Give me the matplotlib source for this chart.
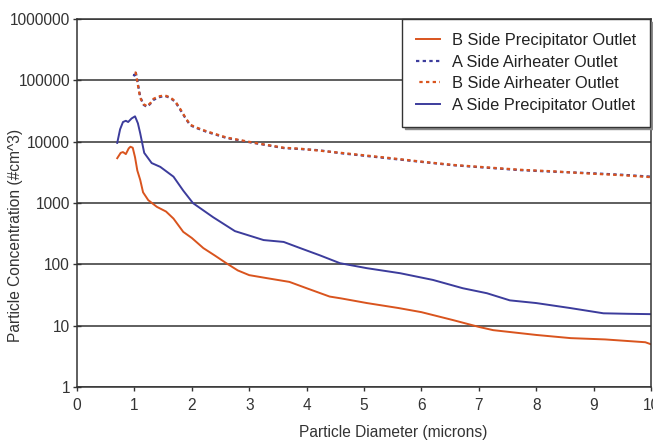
# concentración de partículas vs diámetro, salida de precipitador y calentador de aire

import matplotlib
matplotlib.use('Agg')
import matplotlib.pyplot as plt
from matplotlib.ticker import FixedLocator, FixedFormatter

plt.rcParams['font.family'] = ['Liberation Sans', 'DejaVu Sans']

# lado B, salida precipitador
b_precip_x = [0.70, 0.76, 0.80, 0.85, 0.90, 0.93, 0.97, 1.01, 1.05, 1.10, 1.15, 1.24, 1.39, 1.55,
              1.68, 1.85, 2.0, 2.2, 2.4, 2.6, 2.8, 3.0, 3.3, 3.7, 4.0, 4.4, 4.6, 5.05, 5.6, 6.0,
              6.55, 7.0, 7.25, 8.0, 8.6, 9.2, 9.9, 10.0]
b_precip_y = [5400, 6600, 6800, 6300, 7800, 8300, 8000, 5600, 3400, 2400, 1500, 1120, 870, 730,
              560, 340, 270, 185, 140, 105, 80, 67, 60, 52, 41, 30, 28, 23.5, 19.5, 16.7,
              12.4, 9.6, 8.5, 7.1, 6.3, 6.0, 5.4, 5.0]

# lado A, salida calentador de aire
a_air_x = [0.98, 1.00, 1.02, 1.05, 1.10, 1.16, 1.22, 1.28, 1.33, 1.42, 1.53, 1.62, 1.71, 1.80,
           1.88, 1.97, 2.1, 2.26, 2.61, 3.07, 3.6, 3.9, 4.2, 4.6, 5.4, 6.0, 6.55, 7.1, 7.72,
           8.3, 8.88, 9.5, 10.0]
a_air_y = [125000, 120000, 140000, 100000, 54000, 40000, 37000, 42000, 48000, 53000, 56000,
           52000, 45000, 33000, 25000, 18600, 16500, 14500, 11500, 9600, 7900, 7600, 7300,
           6500, 5400, 4700, 4150, 3800, 3450, 3250, 3100, 2900, 2700]

# lado B, salida calentador de aire
b_air_x = [0.98, 1.00, 1.02, 1.05, 1.10, 1.16, 1.22, 1.28, 1.33, 1.42, 1.53, 1.62, 1.71, 1.80,
           1.88, 1.97, 2.1, 2.26, 2.61, 3.07, 3.6, 3.9, 4.2, 4.6, 5.4, 6.0, 6.55, 7.1, 7.72,
           8.3, 8.88, 9.5, 10.0]
b_air_y = [120000, 130000, 135000, 95000, 52000, 41000, 38000, 43000, 50000, 55000, 57000,
           53000, 46000, 34000, 25500, 19000, 16800, 14800, 11700, 9700, 8000, 7700, 7200,
           6600, 5500, 4750, 4200, 3850, 3500, 3300, 3050, 2850, 2650]

# lado A, salida precipitador
a_precip_x = [0.70, 0.75, 0.80, 0.85, 0.89, 0.95, 1.01, 1.06, 1.10, 1.17, 1.30, 1.45, 1.68,
              1.85, 2.02, 2.37, 2.75, 3.25, 3.6, 3.88, 4.23, 4.58, 5.05, 5.63, 6.2, 6.72,
              7.14, 7.54, 8.0, 8.59, 9.17, 9.6, 10.0]
a_precip_y = [9600, 16000, 21000, 22000, 21000, 24000, 26000, 20000, 13800, 6600, 4500, 3900,
              2700, 1600, 1000, 590, 350, 250, 233, 186, 141, 105, 87, 72, 56, 41, 34, 26,
              23.5, 19.5, 16, 15.7, 15.5]

y_ticks = [1, 10, 100, 1000, 10000, 100000, 1000000]
y_tick_labels = ['1', '10', '100', '1000', '10000', '100000', '1000000']

red = '#d9541e'
blue = '#3c3c9c'
fs = 11.2

fig = plt.figure(figsize=(6.53, 4.44), dpi=100)
ax = fig.add_axes([0.118, 0.128, 0.879, 0.829])

ax.plot(b_precip_x, b_precip_y, color=red, lw=1.4, label='B Side Precipitator Outlet')
ax.plot(a_air_x, a_air_y, color=blue, lw=1.6, ls=(0, (1.5, 1.5)), label='A Side Airheater Outlet')
ax.plot(b_air_x, b_air_y, color=red, lw=1.6, ls=(1.5, (1.5, 1.5)), label='B Side Airheater Outlet')
ax.plot(a_precip_x, a_precip_y, color=blue, lw=1.4, label='A Side Precipitator Outlet')

ax.set_yscale('log')
ax.set_ylim(1, 1000000)
ax.set_xlim(0, 10)
ax.yaxis.set_major_locator(FixedLocator(y_ticks))
ax.yaxis.set_major_formatter(FixedFormatter(y_tick_labels))
ax.yaxis.set_minor_locator(FixedLocator([]))
ax.set_xticks(range(0, 11))

ax.grid(True, axis='y', color='#333333', lw=1.1)
ax.set_axisbelow(True)
for s in ax.spines.values():
    s.set_color('#333333')
    s.set_linewidth(1.1)

ax.tick_params(axis='y', direction='inout', length=6, width=1, labelsize=fs, colors='#333333', pad=2)
ax.tick_params(axis='x', direction='out', length=3, width=1, labelsize=fs, colors='#333333', pad=5)

fig.text(0.602, 0.027, 'Particle Diameter (microns)', ha='center', va='center', fontsize=fs, color='#333333')
fig.text(0.024, 0.47, 'Particle Concentration (#cm^3)', ha='center', va='center', rotation=90,
         fontsize=fs, color='#333333')

leg = ax.legend(loc='upper right', bbox_to_anchor=(0.998, 1.0), fontsize=fs + 0.6, frameon=True,
                fancybox=False, shadow={'color': '#8a8a8a', 'alpha': 1.0}, handlelength=1.5,
                handletextpad=0.7, borderpad=0.85, borderaxespad=0.0, labelspacing=0.4)
leg.get_frame().set_edgecolor('#333333')
leg.get_frame().set_linewidth(1.0)
for t in leg.get_texts():
    t.set_color('#222222')

fig.savefig('out.png', dpi=100)
plt.close(fig)
